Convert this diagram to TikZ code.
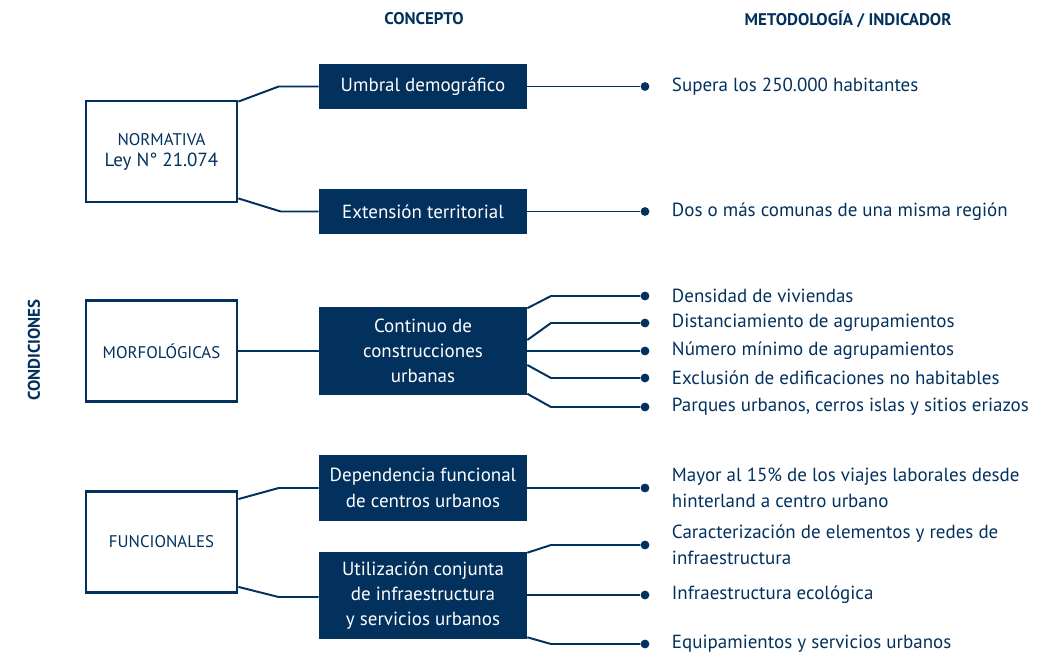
\documentclass[tikz,border=0pt]{standalone}
\usepackage{fontspec}
\setmainfont{PT Sans}
\usetikzlibrary{positioning,calc}
\definecolor{planNavy}{RGB}{3,49,94}

\begin{document}
\begin{tikzpicture}[x=0.025cm,y=-0.025cm,
        leftbox/.style={draw=planNavy,line width=2pt,minimum width=3.775cm,minimum height=2.525cm,align=center,text=planNavy,font=\fontsize{12}{14}\selectfont},
        concept/.style={fill=planNavy,text=white,minimum width=5.2cm,align=center,font=\fontsize{13.5}{18}\selectfont},
        head/.style={text=planNavy,font=\fontsize{12}{14}\selectfont\bfseries},
        item/.style={text=planNavy,align=left,anchor=west,inner sep=0pt,right=0.55cm of #1,font=\fontsize{13.5}{18.5}\selectfont},
        dot/.style={circle,fill=planNavy,inner sep=0pt,minimum size=0.22cm},
        conn/.style={planNavy,line width=1.4pt}]
            \useasboundingbox (0,0) rectangle (1060,653);

            % Headers
            \node[head] (hconcepto) at (424,19) {CONCEPTO};
            \node[head] (hmetodo) at (848,19) {METODOLOGÍA / INDICADOR};
            \node[head,rotate=90] (hcond) at (34,350) {CONDICIONES};

            % Conditions
            \node[leftbox] (normativa) at (161.5,151.5) {NORMATIVA\\[1pt]{\fontsize{13.5}{16}\selectfont Ley N° 21.074}};
            \node[leftbox] (morfo) at (161.5,351) {MORFOLÓGICAS};
            \node[leftbox] (funcional) at (161.5,542) {FUNCIONALES};

            % Concepts
            \node[concept,minimum height=1.125cm] (umbral) at (423,86.5) {Umbral demográfico};
            \node[concept,minimum height=1.125cm] (extension) at (423,211.5) {Extensión territorial};
            \node[concept,minimum height=2.175cm] (continuo) at (423,351) {Continuo de\\construcciones\\urbanas};
            \node[concept,minimum height=1.65cm] (dependencia) at (423,488) {Dependencia funcional\\de centros urbanos};
            \node[concept,minimum height=2.175cm] (utilizacion) at (423,595.5) {Utilización conjunta\\de infraestructura\\y servicios urbanos};

            % Dots
            \node[dot] (d1) at (645,86.5) {};
            \node[dot] (d2) at (645,211.5) {};
            \node[dot] (d3) at (645,296) {};
            \node[dot] (d4) at (645,323) {};
            \node[dot] (d5) at (645,351) {};
            \node[dot] (d6) at (645,378) {};
            \node[dot] (d7) at (645,407) {};
            \node[dot] (d8) at (645,488) {};
            \node[dot] (d9) at (645,545) {};
            \node[dot] (d10) at (645,595) {};
            \node[dot] (d11) at (645,644) {};

            % Indicators
            \node[item=d1] (i1) {Supera los 250.000 habitantes};
            \node[item=d2] (i2) {Dos o más comunas de una misma región};
            \node[item=d3] (i3) {Densidad de viviendas};
            \node[item=d4] (i4) {Distanciamiento de agrupamientos};
            \node[item=d5] (i5) {Número mínimo de agrupamientos};
            \node[item=d6] (i6) {Exclusión de edificaciones no habitables};
            \node[item=d7] (i7) {Parques urbanos, cerros islas y sitios eriazos};
            \node[item=d8] (i8) {Mayor al 15\% de los viajes laborales desde\\hinterland a centro urbano};
            \node[item=d9] (i9) {Caracterización de elementos y redes de\\infraestructura};
            \node[item=d10] (i10) {Infraestructura ecológica};
            \node[item=d11] (i11) {Equipamientos y servicios urbanos};

            % Conditions to concepts
            \draw[conn] ($(normativa.north east)+(0,2)$) -- ($(umbral.west)+(-40,0)$) -- (umbral.west);
            \draw[conn] ($(normativa.south east)+(0,-5)$) -- ($(extension.west)+(-38,0)$) -- (extension.west);
            \draw[conn] (morfo.east) -- (continuo.west);
            \draw[conn] ($(funcional.north east)+(0,9)$) -- ($(dependencia.west)+(-40,0)$) -- (dependencia.west);
            \draw[conn] ($(funcional.south east)+(0,-7)$) -- ($(utilizacion.west)+(-40,1.5)$) -- ($(utilizacion.west)+(0,1.5)$);

            % Concepts to indicators
            \draw[conn] (umbral.east) -- (d1);
            \draw[conn] (extension.east) -- (d2);
            \draw[conn] ($(continuo.north east)+(0,1)$) -- ($(d3)+(-94,0)$) -- (d3);
            \draw[conn] ($(continuo.east)+(0,-11)$) -- ($(d4)+(-94,0)$) -- (d4);
            \draw[conn] (continuo.east) -- (d5);
            \draw[conn] ($(continuo.east)+(0,14)$) -- ($(d6)+(-94,0)$) -- (d6);
            \draw[conn] ($(continuo.south east)+(0,-1)$) -- ($(d7)+(-94,0)$) -- (d7);
            \draw[conn] (dependencia.east) -- (d8);
            \draw[conn] ($(utilizacion.north east)+(0,1)$) -- ($(d9)+(-94,0)$) -- (d9);
            \draw[conn] ($(utilizacion.east)+(0,-0.5)$) -- (d10);
            \draw[conn] ($(utilizacion.south east)+(0,-2)$) -- ($(d11)+(-94,0)$) -- (d11);
        \end{tikzpicture}
\end{document}
